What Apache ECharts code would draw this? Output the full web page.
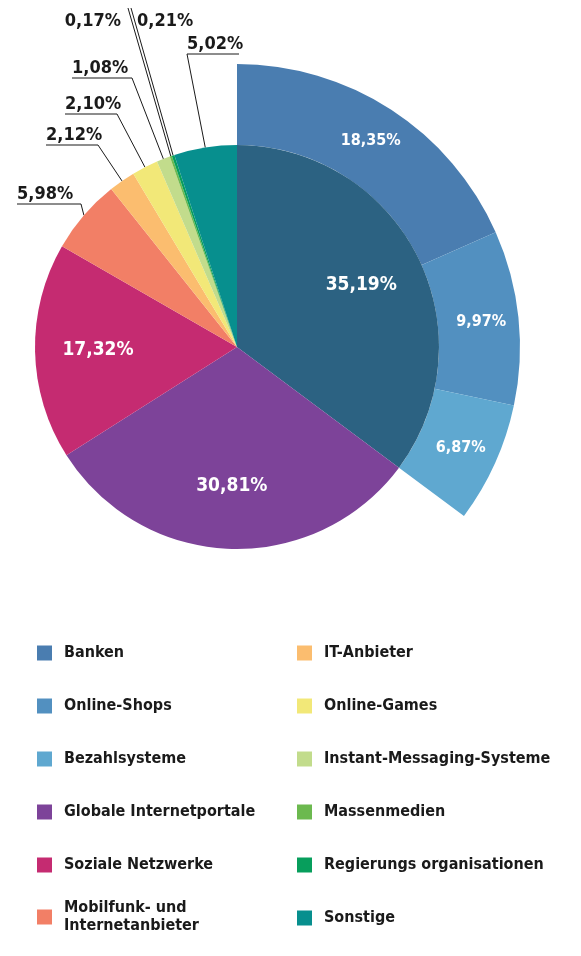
<!DOCTYPE html>
<html>
<head>
<meta charset="utf-8">
<script src="https://cdn.jsdelivr.net/npm/echarts@6/dist/echarts.min.js"></script>
<style>
  html, body { margin: 0; padding: 0; background: #fff; }
  #container { width: 581px; height: 956px; }
</style>
</head>
<body>
<div id="container"></div>
<script>
;(function() {

  // outer ring: breakdown of the first slice
  var outerNames = ['Banken', 'Online-Shops', 'Bezahlsysteme']
  var outerValues = [18.35, 9.97, 6.87]
  var outerColors = ['#4a7db0', '#5290c0', '#5fa8d0']

  // main pie
  var innerNames = ['Banken, Online-Shops, Bezahlsysteme', 'Globale Internetportale', 'Soziale Netzwerke',
    'Mobilfunk- und\nInternetanbieter', 'IT-Anbieter', 'Online-Games', 'Instant-Messaging-Systeme',
    'Massenmedien', 'Regierungs organisationen', 'Sonstige']
  var innerValues = [35.19, 30.81, 17.32, 5.98, 2.12, 2.10, 1.08, 0.17, 0.21, 5.02]
  var innerColors = ['#2c6282', '#7d4399', '#c52b71', '#f27f66', '#fbbd6f', '#f2e878',
    '#c2dc8c', '#6cb94f', '#079e5c', '#078f8e']

  var legendLeft = ['Banken', 'Online-Shops', 'Bezahlsysteme', 'Globale Internetportale', 'Soziale Netzwerke']
  var legendLeftLast = ['Mobilfunk- und\nInternetanbieter']
  var legendRight = ['IT-Anbieter', 'Online-Games', 'Instant-Messaging-Systeme', 'Massenmedien',
    'Regierungs organisationen', 'Sonstige']

  var FONT = "'DejaVu Sans Condensed', 'Liberation Sans Narrow', 'DejaVu Sans', sans-serif"

  // where the callouts of the small slices go (label line corner and end of the underline)
  var callouts = {
    3: { corner: [81, 204], tail: [17, 204] },
    4: { corner: [98, 145], tail: [46, 145] },
    5: { corner: [117, 114], tail: [65, 114] },
    6: { corner: [132, 78], tail: [72, 78] },
    7: { corner: [128, 8], text: [121, 21], align: 'right' },
    8: { corner: [131, 8], text: [137, 21], align: 'left' },
    9: { corner: [187, 54], tail: [239, 54] }
  }

  function pct(v) {
    return v.toFixed(2).replace('.', ',') + '%'
  }

  var center = [237, 347]

  var outerData = outerNames.map(function(n, i) {
    return { name: n, value: outerValues[i], itemStyle: { color: outerColors[i] } }
  })
  var rest = 100 - outerValues.reduce(function(a, b) { return a + b }, 0)
  outerData.push({ name: '', value: rest, itemStyle: { color: 'none' }, label: { show: false } })

  var innerData = innerNames.map(function(n, i) {
    return {
      name: n,
      value: innerValues[i],
      itemStyle: { color: innerColors[i] },
      label: { show: i >= 3 },
      labelLine: { show: i >= 3 }
    }
  })

  var labelData = innerNames.map(function(n, i) {
    return { name: n, value: innerValues[i], label: { show: i < 3 } }
  })

  var legendBase = {
    orient: 'vertical',
    icon: 'rect',
    itemWidth: 15,
    itemHeight: 15,
    itemGap: 35,
    padding: 0,
    selectedMode: false,
    textStyle: {
      fontFamily: FONT,
      fontWeight: 'bold',
      fontSize: 16,
      lineHeight: 18,
      color: '#1a1a1a',
      padding: [0, 0, 0, 7]
    }
  }

  var myChart = echarts.init(document.getElementById('container'))

  var option = {
    backgroundColor: '#fff',
    animation: false,
    legend: [
      Object.assign({}, legendBase, { left: 37, top: 644, data: legendLeft }),
      Object.assign({}, legendBase, { left: 37, top: 899, data: legendLeftLast }),
      Object.assign({}, legendBase, { left: 297, top: 644, data: legendRight })
    ],
    series: [
      {
        name: 'outer',
        type: 'pie',
        center: center,
        radius: [202, 283],
        startAngle: 90,
        silent: true,
        itemStyle: { borderWidth: 0 },
        label: {
          show: true,
          position: 'inside',
          color: '#fff',
          fontFamily: FONT,
          fontWeight: 'bold',
          fontSize: 16,
          formatter: function(p) { return pct(p.value) }
        },
        labelLine: { show: false },
        data: outerData
      },
      {
        name: 'main',
        type: 'pie',
        center: center,
        radius: [0, 202],
        startAngle: 90,
        silent: true,
        avoidLabelOverlap: false,
        itemStyle: { borderWidth: 0 },
        label: {
          position: 'outside',
          color: '#1a1a1a',
          fontFamily: FONT,
          fontWeight: 'bold',
          fontSize: 18,
          formatter: function(p) { return pct(p.value) }
        },
        labelLine: {
          length: 10,
          length2: 10,
          lineStyle: { color: '#1a1a1a', width: 1 }
        },
        labelLayout: function(p) {
          var c = callouts[p.dataIndex]
          if (!c || !p.labelLinePoints) return {}
          var start = p.labelLinePoints[0]
          if (c.text) {
            return {
              x: c.text[0], y: c.text[1], align: c.align, verticalAlign: 'middle',
              labelLinePoints: [start, c.corner, c.corner]
            }
          }
          return {
            x: Math.min(c.corner[0], c.tail[0]), y: c.corner[1] - 1,
            align: 'left', verticalAlign: 'bottom',
            labelLinePoints: [start, c.corner, c.tail]
          }
        },
        data: innerData
      },
      {
        // carries the labels of the big slices a bit further out
        name: 'labels',
        type: 'pie',
        center: center,
        radius: [70, 202],
        startAngle: 90,
        silent: true,
        itemStyle: { color: 'transparent', borderWidth: 0 },
        label: {
          position: 'inside',
          color: '#fff',
          fontFamily: FONT,
          fontWeight: 'bold',
          fontSize: 19,
          formatter: function(p) { return pct(p.value) }
        },
        labelLine: { show: false },
        data: labelData
      }
    ]
  }

  myChart.setOption(option, true)
})()
</script>
</body>
</html>
